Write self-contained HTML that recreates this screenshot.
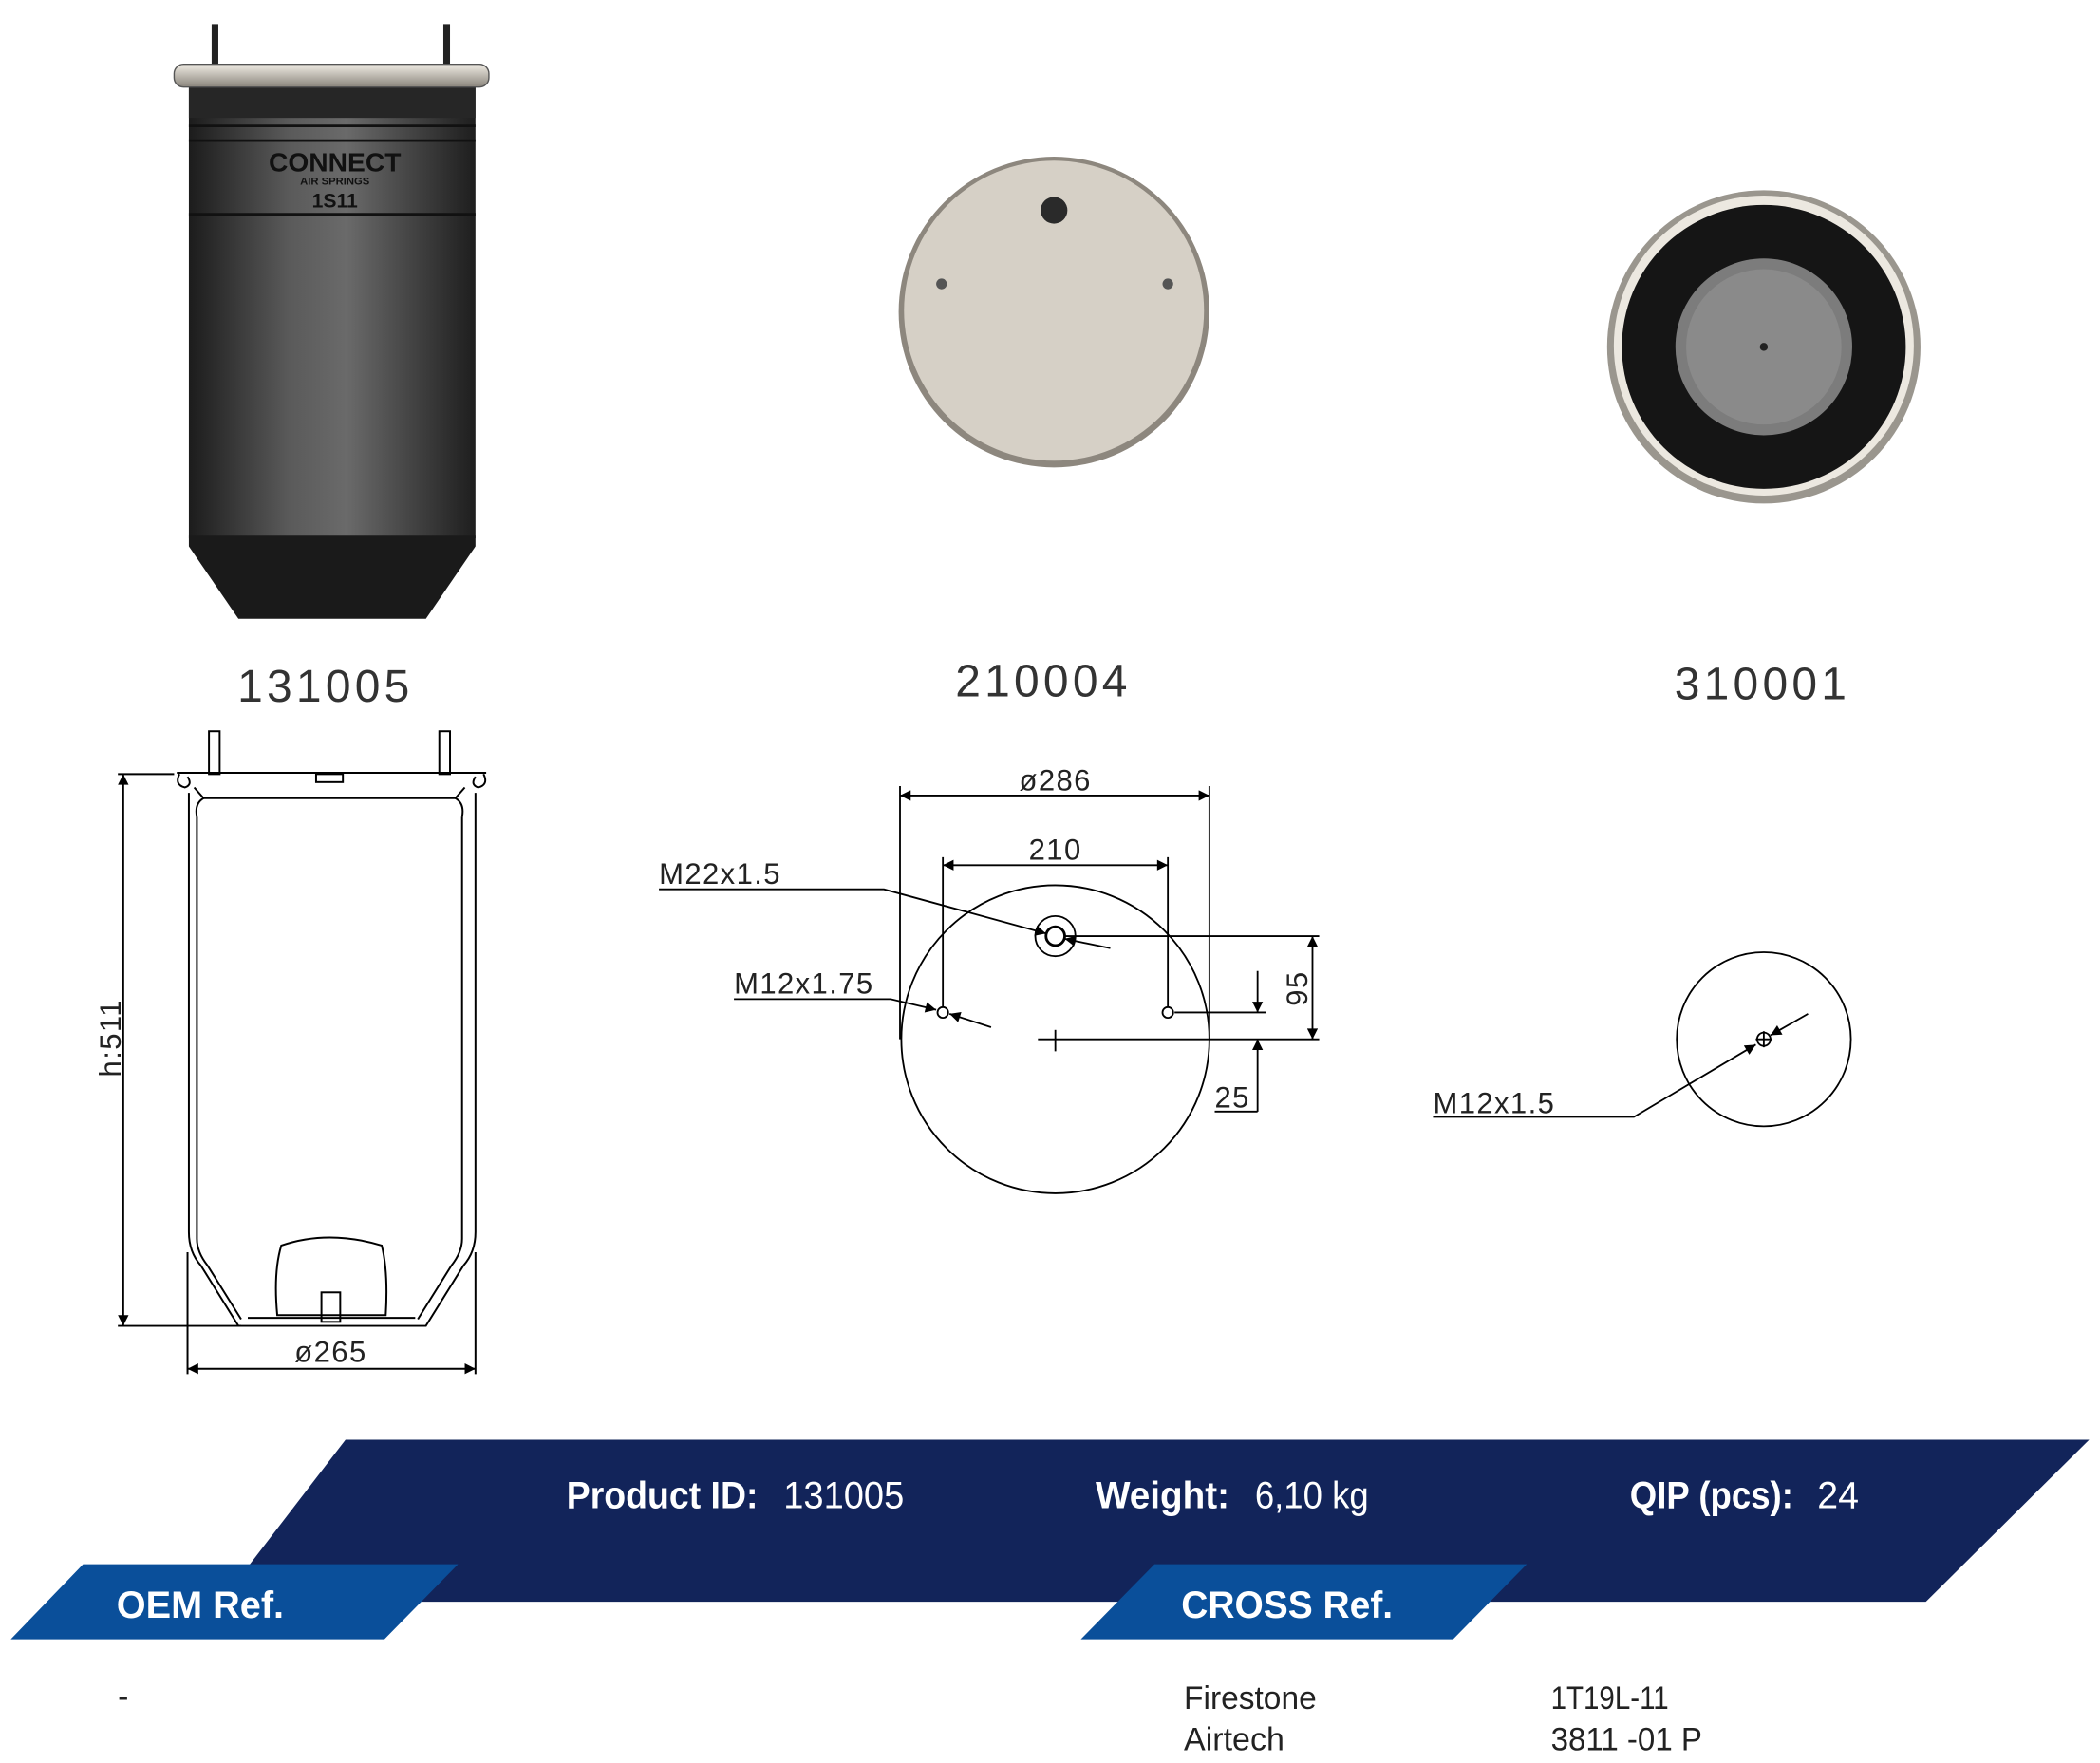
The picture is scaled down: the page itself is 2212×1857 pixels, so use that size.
<!DOCTYPE html>
<html><head><meta charset="utf-8"><style>html,body{margin:0;padding:0;background:#fff}svg{display:block}</style></head>
<body>
<svg width="2212" height="1857" viewBox="0 0 1568 1316.4" xmlns="http://www.w3.org/2000/svg" font-family="Liberation Sans, sans-serif">
<defs>
<linearGradient id="body" x1="0" x2="1" y1="0" y2="0">
<stop offset="0" stop-color="#1c1c1c"/><stop offset="0.35" stop-color="#5a5a5a"/><stop offset="0.55" stop-color="#6a6a6a"/><stop offset="1" stop-color="#1e1e1e"/></linearGradient>
<linearGradient id="ring" x1="0" x2="0" y1="0" y2="1"><stop offset="0" stop-color="#f0ece4"/><stop offset="1" stop-color="#8a857c"/></linearGradient>
<marker id="ar" viewBox="0 0 10 10" refX="10" refY="5" markerWidth="14" markerHeight="8" markerUnits="userSpaceOnUse" orient="auto-start-reverse"><path d="M0,0L10,5L0,10z" fill="#000"/></marker>
</defs>
<!-- product image -->
<rect x="158" y="18" width="5" height="34" fill="#222"/><rect x="331" y="18" width="5" height="34" fill="#222"/>
<rect x="141" y="62" width="214" height="340" fill="url(#body)"/>
<rect x="141" y="62" width="214" height="26" fill="#262626"/>
<line x1="141" y1="94" x2="355" y2="94" stroke="#111" stroke-width="2"/>
<line x1="141" y1="105" x2="355" y2="105" stroke="#111" stroke-width="2"/>
<line x1="141" y1="160" x2="355" y2="160" stroke="#111" stroke-width="2"/>
<path d="M141,400 L355,400 L355,408 L318,462 L178,462 L141,408z" fill="#1a1a1a"/>
<rect x="130" y="48" width="235" height="17" rx="7" fill="url(#ring)" stroke="#555"/>
<text x="250" y="128" text-anchor="middle" font-size="20" font-weight="bold" fill="#111">CONNECT</text>
<text x="250" y="138" text-anchor="middle" font-size="8" font-weight="bold" fill="#111">AIR SPRINGS</text>
<text x="250" y="155" text-anchor="middle" font-size="15" font-weight="bold" fill="#111">1S11</text>
<!-- plate 210004 -->
<circle cx="787" cy="233" r="116" fill="#8d877e"/>
<circle cx="787" cy="232" r="112" fill="#d6d0c6"/>
<circle cx="787" cy="157" r="10" fill="#2a2a2a"/>
<circle cx="703" cy="212" r="4" fill="#555"/><circle cx="872" cy="212" r="4" fill="#555"/>
<!-- 310001 -->
<circle cx="1317" cy="259" r="117" fill="#9a968e"/>
<circle cx="1317" cy="258" r="112" fill="#ece8e0"/>
<circle cx="1317" cy="259" r="106" fill="#151515"/>
<circle cx="1317" cy="259" r="66" fill="#7c7c7c"/>
<circle cx="1317" cy="259" r="58" fill="#8a8a8a"/>
<circle cx="1317" cy="259" r="3" fill="#222"/>
<!-- labels -->
<g font-size="34" fill="#333" text-anchor="middle" letter-spacing="3">
<text x="243" y="524">131005</text><text x="779" y="520">210004</text><text x="1316" y="522">310001</text></g>
<!-- left drawing -->
<g fill="none" stroke="#000" stroke-width="1.4">
<rect x="156" y="546" width="8" height="32"/><rect x="328" y="546" width="8" height="32"/>
<path d="M132,577 H363 M134,578 q-4,8 4,10 q6,-2 2,-8 M361,578 q4,8 -4,10 q-6,-2 -2,-8"/>
<rect x="236" y="578" width="20" height="6"/>
<path d="M145,588 L152,596 H340 L347,588"/>
<path d="M141,592 V920 Q141,935 150,945 L178,990 H318 L346,945 Q355,935 355,920 V592"/>
<path d="M147,610 Q145,600 152,596 M345,610 Q347,600 340,596"/>
<path d="M147,610 V925 Q147,935 155,945 L180,985 M345,610 V925 Q345,935 337,945 L312,985"/>
<path d="M185,984 H310"/>
<path d="M210,930 Q245,918 285,930 Q290,950 288,982 H207 Q204,950 210,930z"/>
<rect x="240" y="965" width="14" height="22"/>
<line x1="88" y1="578" x2="130" y2="578"/><line x1="88" y1="990" x2="180" y2="990"/>
<line x1="92" y1="578" x2="92" y2="990" marker-start="url(#ar)" marker-end="url(#ar)"/>
<line x1="140" y1="935" x2="140" y2="1026"/><line x1="355" y1="935" x2="355" y2="1026"/>
<line x1="140" y1="1022" x2="355" y2="1022" marker-start="url(#ar)" marker-end="url(#ar)"/>
</g>
<g font-size="22" fill="#222">
<text x="247" y="1017" text-anchor="middle" letter-spacing="1">ø265</text>
<text transform="translate(90,775) rotate(-90)" text-anchor="middle" letter-spacing="1">h:511</text>
</g>
<!-- middle drawing -->
<g fill="none" stroke="#000" stroke-width="1.3">
<circle cx="788" cy="776" r="115"/>
<line x1="672" y1="587" x2="672" y2="776"/><line x1="903" y1="587" x2="903" y2="776"/>
<line x1="672" y1="594" x2="903" y2="594" marker-start="url(#ar)" marker-end="url(#ar)"/>
<line x1="704" y1="640" x2="704" y2="752"/><line x1="872" y1="640" x2="872" y2="752"/>
<line x1="704" y1="646" x2="872" y2="646" marker-start="url(#ar)" marker-end="url(#ar)"/>
<circle cx="704" cy="756" r="4"/><circle cx="872" cy="756" r="4"/>
<circle cx="788" cy="699" r="7" stroke-width="2"/><circle cx="788" cy="699" r="15"/>
<line x1="795" y1="699" x2="985" y2="699"/>
<line x1="775" y1="776" x2="985" y2="776"/><line x1="788" y1="769" x2="788" y2="785"/>
<line x1="877" y1="756" x2="945" y2="756"/>
<line x1="980" y1="699" x2="980" y2="776" marker-start="url(#ar)" marker-end="url(#ar)"/>
<line x1="939" y1="725" x2="939" y2="756" marker-end="url(#ar)"/>
<line x1="939" y1="830" x2="939" y2="776" marker-end="url(#ar)"/>
<line x1="907" y1="830" x2="939" y2="830"/>
<polyline points="492,664 660,664 781,697" marker-end="url(#ar)"/>
<line x1="829" y1="708" x2="795" y2="701" marker-end="url(#ar)"/>
<polyline points="548,746 665,746 699,754" marker-end="url(#ar)"/>
<line x1="740" y1="767" x2="709" y2="757" marker-end="url(#ar)"/>
</g>
<g font-size="22" fill="#222" letter-spacing="1">
<text x="788" y="590" text-anchor="middle">ø286</text>
<text x="788" y="642" text-anchor="middle">210</text>
<text x="492" y="660">M22x1.5</text>
<text x="548" y="742">M12x1.75</text>
<text x="907" y="827">25</text>
<text transform="translate(976,738) rotate(-90)" text-anchor="middle">95</text>
</g>
<!-- right drawing -->
<g fill="none" stroke="#000" stroke-width="1.3">
<circle cx="1317" cy="776" r="65"/>
<circle cx="1317" cy="776" r="5"/>
<line x1="1311" y1="776" x2="1323" y2="776"/><line x1="1317" y1="770" x2="1317" y2="782"/>
<polyline points="1070,834 1220,834 1311,780" marker-end="url(#ar)"/>
<line x1="1350" y1="757" x2="1322" y2="773" marker-end="url(#ar)"/>
</g>
<text x="1070" y="831" font-size="22" fill="#222" letter-spacing="1">M12x1.5</text>
<!-- banner -->
<polygon points="258,1075 1560,1075 1438,1196 165,1196" fill="#12245a"/>
<polygon points="62,1168 342,1168 287,1224 8,1224" fill="#0a4f9a"/>
<polygon points="862,1168 1140,1168 1085,1224 807,1224" fill="#0a4f9a"/>
<g fill="#fff" font-size="28">
<text x="423" y="1126" font-weight="bold" textLength="143" lengthAdjust="spacingAndGlyphs">Product ID:</text>
<text x="585" y="1126" textLength="90" lengthAdjust="spacingAndGlyphs">131005</text>
<text x="818" y="1126" font-weight="bold" textLength="100" lengthAdjust="spacingAndGlyphs">Weight:</text>
<text x="937" y="1126" textLength="85" lengthAdjust="spacingAndGlyphs">6,10 kg</text>
<text x="1217" y="1126" font-weight="bold" textLength="122" lengthAdjust="spacingAndGlyphs">QIP (pcs):</text>
<text x="1357" y="1126" textLength="31" lengthAdjust="spacingAndGlyphs">24</text>
<text x="87" y="1208" font-weight="bold" textLength="125" lengthAdjust="spacingAndGlyphs">OEM Ref.</text>
<text x="882" y="1208" font-weight="bold" textLength="158" lengthAdjust="spacingAndGlyphs">CROSS Ref.</text>
</g>
<g fill="#222" font-size="24">
<text x="88" y="1275">-</text>
<text x="884" y="1276" textLength="99" lengthAdjust="spacingAndGlyphs">Firestone</text>
<text x="1158" y="1276" textLength="88" lengthAdjust="spacingAndGlyphs">1T19L-11</text>
<text x="884" y="1307" textLength="75" lengthAdjust="spacingAndGlyphs">Airtech</text>
<text x="1158" y="1307" textLength="113" lengthAdjust="spacingAndGlyphs">3811 -01 P</text>
</g>
</svg>
</body></html>
